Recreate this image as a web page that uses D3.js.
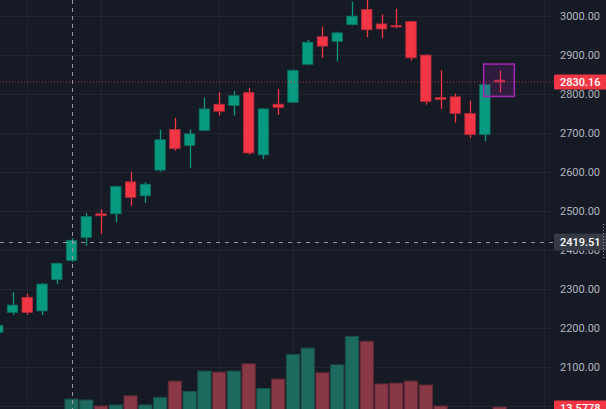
<!DOCTYPE html>
<html><head><meta charset="utf-8">
<script src="https://cdn.jsdelivr.net/npm/d3@7"></script>
<style>html,body{margin:0;padding:0;background:#161a25;overflow:hidden}svg{display:block}</style>
</head><body>
<svg id="c" width="606" height="409"></svg>
<script>
const opens  = [2188,2239,2278,2243,2323,2372,2431,2492,2492,2574,2538,2604,2708,2667,2706,2773,2770,2803,2643,2773,2778,2875,2946,2934,2977,3016,2979,2975,2985,2899,2790,2792,2749,2695,2835];
const highs  = [2212,2291,2287,2315,2367,2430,2494,2504,2564,2600,2573,2708,2738,2709,2790,2804,2807,2815,2763,2812,2862,2938,2972,2959,3036,3045,3003,3018,2987,2901,2860,2800,2782,2825,2860];
const lows   = [2182,2233,2233,2232,2312,2368,2410,2441,2471,2513,2520,2600,2654,2609,2704,2744,2744,2644,2632,2746,2776,2873,2892,2883,2975,2945,2943,2968,2885,2772,2761,2726,2686,2678,2803];
const closes = [2206,2258,2239,2312,2365,2424,2485,2487,2562,2534,2568,2682,2659,2697,2761,2755,2795,2648,2761,2765,2860,2932,2922,2956,2999,2964,2966,2973,2892,2780,2785,2749,2695,2823,2830.16];
const volumes= [8,9,7,10,11,18.3,17.7,14.2,14.8,20.2,14.8,19.3,28.9,22.8,34.8,34.2,34.8,39.1,24.6,30.1,44.7,48.4,33.8,38.5,55.3,52.4,27.2,27.7,28.9,26.6,14.2,10,11,12,13.5778];
const priceTicks = [2100,2200,2300,2400,2500,2600,2700,2800,2900,3000];
const priceGrid = [2000,2100,2200,2300,2400,2500,2600,2700,2800,2900,3000];
const timeGridIdx = [2,7,15,20,32,37];
const crossIdx = 5, crossPrice = 2419.51;
const lastPrice = 2830.16, lastVolume = 13.5778;
const boxIdx = [32.92, 35.0], boxPrice = [2876, 2793];

const W = 606, H = 409, paneRight = 554;
const svg = d3.select('#c');
const up = '#089981', dn = '#f23645';
const x = d3.scaleLinear().domain([0, 34]).range([-2.26, 499.6]);
const y = d3.scaleLinear().domain([2100, 3000]).range([366.7, 15.7]);
const v = d3.scaleLinear().domain([0, 60]).range([430, 328.4]);
const n = closes.length;
const idx = d3.range(n);

svg.append('rect').attr('width', W).attr('height', H).attr('fill', '#161a25');

// grid
const g = svg.append('g');
g.selectAll('line.h').data(priceGrid).join('line')
  .attr('x1', 0).attr('x2', paneRight).attr('y1', d => Math.round(y(d)) + 0.5).attr('y2', d => Math.round(y(d)) + 0.5)
  .attr('stroke', '#222531').attr('stroke-width', 1);
g.selectAll('line.v').data(timeGridIdx).join('line')
  .attr('x1', d => Math.round(x(d)) + 0.5).attr('x2', d => Math.round(x(d)) + 0.5).attr('y1', 0).attr('y2', H)
  .attr('stroke', '#222531').attr('stroke-width', 1);

// volume
const vw = 13.3;
svg.append('g').selectAll('rect').data(idx).join('rect')
  .attr('x', i => x(i) - vw / 2).attr('width', vw)
  .attr('y', i => v(volumes[i])).attr('height', i => v(0) - v(volumes[i]))
  .attr('fill', i => closes[i] >= opens[i] ? '#1d6a5e' : '#893845')
  .attr('stroke', i => closes[i] >= opens[i] ? '#1a4c47' : '#5c2733').attr('stroke-width', 1);

// candles
const cw = 10.5;
const cg = svg.append('g');
cg.selectAll('line').data(idx).join('line')
  .attr('x1', i => Math.round(x(i)) + 0.5).attr('x2', i => Math.round(x(i)) + 0.5)
  .attr('y1', i => y(highs[i])).attr('y2', i => y(lows[i]))
  .attr('stroke', i => closes[i] >= opens[i] ? up : dn).attr('stroke-width', 1.3);
cg.selectAll('rect').data(idx).join('rect')
  .attr('x', i => x(i) - cw / 2).attr('width', cw)
  .attr('y', i => y(Math.max(opens[i], closes[i])))
  .attr('height', i => Math.max(1.5, Math.abs(y(opens[i]) - y(closes[i]))))
  .attr('fill', i => closes[i] >= opens[i] ? up : dn)
  .attr('stroke', i => closes[i] >= opens[i] ? '#0b6e5d' : '#b02a37').attr('stroke-width', 0.8);

// annotation box
svg.append('rect')
  .attr('x', x(boxIdx[0])).attr('width', x(boxIdx[1]) - x(boxIdx[0]))
  .attr('y', y(boxPrice[0])).attr('height', y(boxPrice[1]) - y(boxPrice[0]))
  .attr('fill', 'rgba(156,39,176,0.18)').attr('stroke', '#9c27b0').attr('stroke-width', 1.6);

// last price line
svg.append('line').attr('x1', 0).attr('x2', paneRight).attr('y1', y(lastPrice)).attr('y2', y(lastPrice))
  .attr('stroke', dn).attr('stroke-opacity', 0.75).attr('stroke-width', 1).attr('stroke-dasharray', '1,2');

// crosshair
svg.append('line').attr('x1', Math.round(x(crossIdx)) + 0.5).attr('x2', Math.round(x(crossIdx)) + 0.5).attr('y1', 0).attr('y2', H)
  .attr('stroke', '#9598a1').attr('stroke-width', 1).attr('stroke-dasharray', '4,4');
svg.append('line').attr('x1', 0).attr('x2', paneRight).attr('y1', Math.round(y(crossPrice)) + 0.5).attr('y2', Math.round(y(crossPrice)) + 0.5)
  .attr('stroke', '#9598a1').attr('stroke-width', 1).attr('stroke-dasharray', '4,5');

// price axis
const axis = d3.axisRight(y).tickValues(priceTicks).tickSize(0).tickPadding(0).tickFormat(d3.format('.2f'));
const ag = svg.append('g').attr('transform', `translate(560,0)`).call(axis);
ag.select('.domain').remove();
ag.selectAll('text').attr('fill', '#b2b5be').attr('font-family', 'Roboto, sans-serif').attr('font-size', 11);

// labels
function label(yc, txt, fill, h) {
  svg.append('rect').attr('x', paneRight).attr('y', yc - h / 2).attr('width', W - paneRight + 2).attr('height', h).attr('rx', 1.5).attr('fill', fill);
  svg.append('text').attr('x', 560).attr('y', yc).attr('dy', '0.35em').attr('fill', '#ffffff')
    .attr('font-family', 'Roboto, sans-serif').attr('font-size', 11).attr('font-weight', 500).text(txt);
}
label(y(lastPrice), d3.format('.2f')(lastPrice), dn, 15);
label(y(crossPrice), d3.format('.2f')(crossPrice), '#363a45', 17);
label(v(lastVolume) + 1, d3.format('.4f')(lastVolume), dn, 15);

// right-edge dotted marker
svg.append('line').attr('x1', 603.5).attr('x2', 603.5).attr('y1', 224).attr('y2', 258)
  .attr('stroke', '#9598a1').attr('stroke-width', 1).attr('stroke-dasharray', '1,2');
</script>
</body></html>
